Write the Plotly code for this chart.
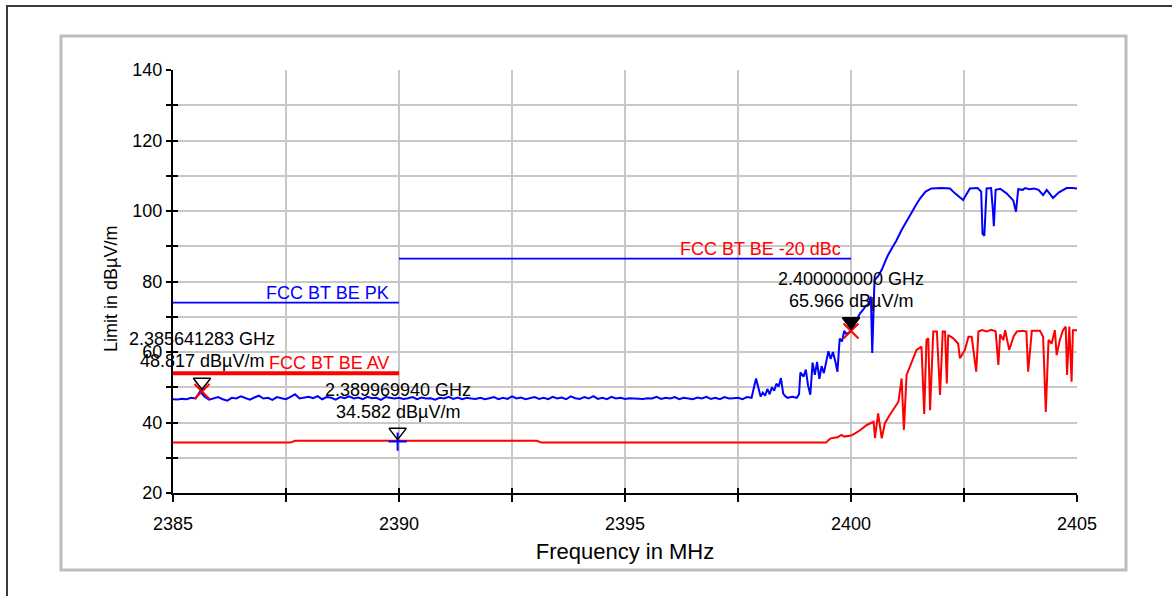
import numpy as np
import plotly.graph_objects as go

# ---------------- data ----------------
# Peak trace: flat noise floor, 0.1 MHz steps from 2385.0 to 2398.0
peak_noise_freq = np.round(np.arange(2385.0, 2398.001, 0.1), 2)
peak_noise_val = [
    46.6, 46.5, 46.7, 46.6, 47.0, 46.8, 48.8, 47.3, 46.5, 46.9,
    47.2, 46.6, 46.2, 47.0, 46.8, 47.4, 46.9, 46.5, 47.1, 47.6,
    46.8, 47.0, 46.4, 47.2, 46.9, 46.6, 47.3, 48.0, 46.8, 47.1,
    47.3, 46.9, 47.5, 46.6, 47.2, 47.0, 46.5, 47.2, 46.9, 47.4,
    46.8, 47.1, 46.6, 47.3, 46.9, 47.0, 46.4, 47.2, 47.0, 46.8,
    47.0, 46.7, 46.9, 47.2, 46.6, 47.1, 46.8, 46.9, 46.5, 47.0,
    46.8, 47.3, 46.7, 47.1, 46.6, 47.0, 46.8, 46.7, 47.0, 46.6,
    46.9, 47.2, 46.6, 47.0, 46.7, 47.4, 46.8, 47.1, 46.6, 46.9,
    47.2, 46.7, 47.0, 46.6, 47.3, 46.8, 47.1, 46.6, 47.4, 46.9,
    46.7, 47.2, 46.8, 47.5, 46.7, 47.0, 46.6, 47.3, 46.8, 47.0,
    46.7, 46.9, 46.8, 46.8, 46.7, 46.9, 46.8, 47.3, 46.7, 47.0,
    46.8, 47.2, 46.6, 47.0, 46.9, 46.6, 47.1, 46.8, 47.3, 46.7,
    47.0, 46.6, 47.2, 46.8, 46.9, 47.0, 46.6, 47.2, 47.0, 52.5,
    47.4,
]
# Peak trace: band edge region
peak_edge_freq = [
    2398.05, 2398.1, 2398.15, 2398.2, 2398.25, 2398.3, 2398.35, 2398.4, 2398.45,
    2398.5, 2398.55, 2398.6, 2398.7, 2398.8, 2398.85, 2398.88, 2398.95, 2399.0,
    2399.05, 2399.1, 2399.15, 2399.2, 2399.25, 2399.3, 2399.35, 2399.4, 2399.45,
    2399.5, 2399.55, 2399.6, 2399.65, 2399.7, 2399.75, 2399.8, 2399.85, 2399.9,
    2400.0, 2400.1, 2400.2, 2400.27, 2400.32, 2400.38, 2400.44, 2400.47, 2400.52,
    2400.6, 2400.68, 2400.75, 2400.82, 2400.93, 2401.0, 2401.12, 2401.2, 2401.34,
    2401.45, 2401.53, 2401.65, 2401.78, 2401.9, 2402.0, 2402.19, 2402.3, 2402.48,
    2402.55, 2402.63, 2402.8, 2402.88, 2402.91, 2402.95, 2403.0, 2403.1, 2403.14,
    2403.16, 2403.2, 2403.3, 2403.44, 2403.52, 2403.59, 2403.65, 2403.7, 2403.8,
    2403.85, 2403.95, 2404.05, 2404.15, 2404.25, 2404.33, 2404.4, 2404.47, 2404.6,
    2404.77, 2404.9, 2405.0,
]
peak_edge_val = [
    48.5, 47.6, 49.5, 48.0, 50.0, 49.0, 51.0, 50.2, 52.6,
    48.2, 47.4, 47.0, 47.3, 47.0, 48.0, 54.2, 53.0, 55.0,
    50.5, 47.9, 57.0, 53.5, 57.2, 52.4, 56.0, 54.0, 57.5,
    60.2, 58.0, 60.0, 57.5, 54.4, 63.8, 63.0, 66.0, 65.0,
    66.0, 68.5, 71.0, 72.0, 73.0, 73.5, 75.7, 59.7, 80.4,
    81.5, 83.3, 85.5, 87.5, 90.0, 91.5, 94.6, 96.5, 99.4,
    102.0, 103.6, 105.5, 106.4, 106.5, 106.5, 106.4, 105.0, 103.1,
    104.5, 106.4, 106.5, 105.5, 93.5, 93.0, 106.4, 106.5, 100.0,
    95.7, 106.0, 106.3, 105.0, 104.0, 103.0, 99.8, 106.2, 106.0,
    106.5, 106.2, 106.4, 106.0, 104.5, 106.0, 105.0, 103.7, 105.3,
    106.5, 106.5, 106.4,
]

# Average trace
avg_freq = [
    2385.0, 2387.6, 2387.7, 2393.05, 2393.15, 2399.45,
    2399.5, 2399.55, 2399.7, 2399.79, 2399.85, 2400.0, 2400.09, 2400.2, 2400.35,
    2400.45, 2400.5, 2400.53, 2400.6, 2400.68, 2400.75, 2400.85, 2400.95, 2401.05,
    2401.12, 2401.17, 2401.23, 2401.35, 2401.45, 2401.56, 2401.62, 2401.67, 2401.71,
    2401.75, 2401.82, 2401.9, 2401.97, 2402.03, 2402.08, 2402.12, 2402.15, 2402.25,
    2402.37, 2402.41, 2402.52, 2402.6, 2402.67, 2402.77, 2402.82, 2402.9, 2403.0,
    2403.1, 2403.2, 2403.26, 2403.3, 2403.37, 2403.41, 2403.5, 2403.6, 2403.67,
    2403.8, 2403.88, 2403.92, 2404.0, 2404.18, 2404.25, 2404.31, 2404.37, 2404.44,
    2404.51, 2404.55, 2404.62, 2404.69, 2404.75, 2404.78, 2404.83, 2404.88, 2404.91,
    2405.0,
]
avg_val = [
    34.3, 34.3, 34.8, 34.8, 34.3, 34.3,
    35.0, 35.5, 35.8, 36.5, 36.0, 36.3, 36.9, 37.8, 39.3,
    40.0, 40.2, 35.6, 42.6, 35.5, 39.8, 42.0, 44.0, 45.9,
    52.5, 37.9, 53.5, 57.5, 60.6, 61.5, 42.4, 63.4, 63.9,
    43.5, 65.8, 65.8, 47.8, 65.8, 65.8, 51.1, 64.8, 64.0,
    62.4, 58.2, 60.6, 64.3, 64.3, 54.4, 65.8, 66.2, 65.8,
    66.3, 65.9, 56.3, 65.0, 63.4, 66.2, 60.6, 64.5, 65.8,
    66.0, 65.8, 54.4, 66.0, 66.0, 64.3, 43.0, 63.4, 62.4,
    66.2, 59.1, 63.4, 66.2, 67.2, 53.5, 67.2, 51.6, 66.2,
    66.2,
]

# Limit lines
pk_limit_x = [2385, 2390]
pk_limit_y = [74, 74]
av_limit_x = [2385, 2390]
av_limit_y = [54, 54]
dbc_limit_x = [2390, 2400]
dbc_limit_y = [86.5, 86.5]
limit_labels = ["FCC BT BE PK", "FCC BT BE AV", "FCC BT BE -20 dBc"]

# Markers
marker_freq_mhz = [2385.641283, 2389.969940, 2400.000000]
marker_level = [48.817, 34.582, 65.966]
marker_freq_text = ["2.385641283 GHz", "2.389969940 GHz", "2.400000000 GHz"]
marker_level_text = ["48.817 dBµV/m", "34.582 dBµV/m", "65.966 dBµV/m"]

x_ticks = [2385, 2387.5, 2390, 2392.5, 2395, 2397.5, 2400, 2402.5, 2405]
x_ticktext = ["2385", "", "2390", "", "2395", "", "2400", "", "2405"]
y_ticks = [20, 30, 40, 50, 60, 70, 80, 90, 100, 110, 120, 130, 140]
y_ticktext = ["20", "", "40", "", "60", "", "80", "", "100", "", "120", "", "140"]

x_title = "Frequency in MHz"
y_title = "Limit in dBµV/m"

# ---------------- figure ----------------
W, H = 1172, 596
ML, MR, MT, MB = 173, 95, 70, 103
plot_w = W - ML - MR
plot_h = H - MT - MB
Y_RANGE = [20, 140]
px_per_db = plot_h / (Y_RANGE[1] - Y_RANGE[0])

BLUE = "#0000ff"
RED = "#ff0000"
FONT = "Liberation Sans, Arial, sans-serif"


def px2paper_x(p):
    return (p - ML) / plot_w


def px2paper_y(p):
    return (H - MB - p) / plot_h


fig = go.Figure()

peak_x = list(peak_noise_freq) + peak_edge_freq
peak_y = peak_noise_val + peak_edge_val

fig.add_trace(go.Scatter(x=avg_freq, y=avg_val, mode="lines",
                         line=dict(color=RED, width=2), hoverinfo="skip", showlegend=False))
fig.add_trace(go.Scatter(x=peak_x, y=peak_y, mode="lines",
                         line=dict(color=BLUE, width=2), hoverinfo="skip", showlegend=False))

fig.add_trace(go.Scatter(x=pk_limit_x, y=pk_limit_y, mode="lines",
                         line=dict(color=BLUE, width=1.6), showlegend=False))
fig.add_trace(go.Scatter(x=av_limit_x, y=av_limit_y, mode="lines",
                         line=dict(color=RED, width=4), showlegend=False))
fig.add_trace(go.Scatter(x=dbc_limit_x, y=dbc_limit_y, mode="lines",
                         line=dict(color=BLUE, width=1.6), showlegend=False))

# Marker symbols at points
point_colors = [RED, BLUE, RED]
point_symbols = ["x-thin", "cross-thin", "x-thin"]
point_sizes = [15, 13, 15]
for i in range(3):
    fig.add_trace(go.Scatter(
        x=[marker_freq_mhz[i]], y=[marker_level[i]], mode="markers",
        marker=dict(symbol=point_symbols[i], size=point_sizes[i],
                    line=dict(color=point_colors[i], width=2)),
        showlegend=False, hoverinfo="skip"))

# Triangles just above the points
tri_offset = 9.5 / px_per_db
tri_y = [v + tri_offset for v in marker_level]
for i in range(3):
    filled = (i == 2)
    fig.add_trace(go.Scatter(
        x=[marker_freq_mhz[i]], y=[tri_y[i]], mode="markers",
        marker=dict(symbol="triangle-down" if filled else "triangle-down-open",
                    size=15, color="black",
                    line=dict(color="black", width=1.5)),
        showlegend=False, hoverinfo="skip"))

# Dummy trace for the overlay axes (inside tick halves)
fig.add_trace(go.Scatter(x=[None], y=[None], xaxis="x2", yaxis="y2",
                         showlegend=False, hoverinfo="skip"))

annotations = []
# Limit labels
lab_pos = [(pk_limit_x[1], pk_limit_y[0], BLUE),
           (av_limit_x[1], av_limit_y[0], RED),
           (dbc_limit_x[1], dbc_limit_y[0], RED)]
for txt, (lx, ly, col) in zip(limit_labels, lab_pos):
    annotations.append(dict(x=lx, y=ly, xref="x", yref="y", text=txt,
                            showarrow=False, xanchor="right", yanchor="middle",
                            xshift=-8, yshift=10, font=dict(color=col, size=18, family=FONT)))
# Marker labels
for i in range(3):
    annotations.append(dict(x=marker_freq_mhz[i], y=marker_level[i], xref="x", yref="y",
                            text=marker_freq_text[i], showarrow=False,
                            xanchor="center", yanchor="middle", yshift=52,
                            font=dict(color="black", size=18, family=FONT)))
    annotations.append(dict(x=marker_freq_mhz[i], y=marker_level[i], xref="x", yref="y",
                            text=marker_level_text[i], showarrow=False,
                            xanchor="center", yanchor="middle", yshift=30,
                            font=dict(color="black", size=18, family=FONT)))
# Y axis title (placed as in the reference, slightly below the plot centre)
annotations.append(dict(x=px2paper_x(111), y=px2paper_y(289), xref="paper", yref="paper",
                        text=y_title, textangle=-90, showarrow=False,
                        xanchor="center", yanchor="middle",
                        font=dict(color="black", size=18, family=FONT)))

shapes = [
    dict(type="rect", xref="paper", yref="paper",
         x0=px2paper_x(7), x1=px2paper_x(1190), y0=px2paper_y(620), y1=px2paper_y(6),
         line=dict(color="#3a3a3a", width=2), fillcolor="rgba(0,0,0,0)"),
    dict(type="rect", xref="paper", yref="paper",
         x0=px2paper_x(61), x1=px2paper_x(1126), y0=px2paper_y(570), y1=px2paper_y(36),
         line=dict(color="#bdbdbd", width=3), fillcolor="rgba(0,0,0,0)"),
]

fig.update_layout(
    width=W, height=H,
    margin=dict(l=ML, r=MR, t=MT, b=MB, pad=0),
    paper_bgcolor="white", plot_bgcolor="white",
    font=dict(family=FONT, size=18, color="black"),
    showlegend=False,
    xaxis=dict(range=[2385, 2405], tickvals=x_ticks, ticktext=x_ticktext,
               showgrid=True, gridcolor="#c8c8c8", gridwidth=2,
               showline=True, linecolor="black", linewidth=2,
               ticks="outside", ticklen=7, tickwidth=2, tickcolor="black",
               ticklabelstandoff=6,
               zeroline=False, tickfont=dict(size=18),
               title=dict(text=x_title, font=dict(size=22), standoff=11)),
    yaxis=dict(range=Y_RANGE, tickvals=y_ticks, ticktext=y_ticktext,
               showgrid=True, gridcolor="#c8c8c8", gridwidth=2,
               showline=True, linecolor="black", linewidth=2,
               ticks="outside", ticklen=5, tickwidth=2, tickcolor="black",
               zeroline=False, tickfont=dict(size=18)),
    xaxis2=dict(overlaying="x", matches="x", anchor="y", side="bottom",
                tickvals=x_ticks, showticklabels=False, showgrid=False,
                ticks="inside", ticklen=5, tickwidth=2, tickcolor="black",
                showline=False, zeroline=False),
    yaxis2=dict(overlaying="y", matches="y", anchor="x", side="left",
                tickvals=y_ticks, showticklabels=False, showgrid=False,
                ticks="inside", ticklen=5, tickwidth=2, tickcolor="black",
                showline=False, zeroline=False),
    annotations=annotations,
    shapes=shapes,
)

fig.write_html("out.html")
